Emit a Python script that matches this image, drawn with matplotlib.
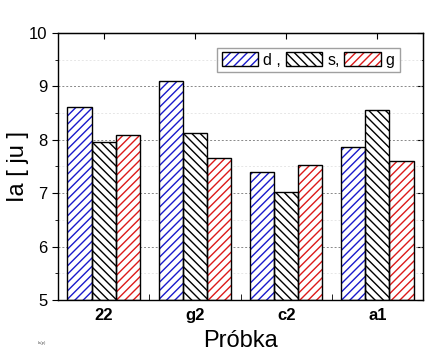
import matplotlib
matplotlib.use('Agg')
import matplotlib.pyplot as plt
import numpy as np
from matplotlib.patches import Patch
from matplotlib.legend_handler import HandlerTuple

plt.rcParams['font.family'] = ['Liberation Sans', 'DejaVu Sans']
plt.rcParams['hatch.linewidth'] = 1.0

# data
samples = ['22', 'g2', 'c2', 'a1']
d_vals = [8.62, 9.11, 7.40, 7.87]
s_vals = [7.96, 8.13, 7.03, 8.55]
g_vals = [8.09, 7.65, 7.53, 7.61]
labels = ['d ,', 's,', 'g']

series = [d_vals, s_vals, g_vals]
colors = ['#1a1acc', 'black', '#dd1a1a']
hatches = ['////', '\\\\\\\\', '////']

fig = plt.figure(figsize=(4.32, 3.56), dpi=100)
ax = fig.add_axes([58 / 432, 1 - 300 / 356, 365 / 432, 267 / 356])

x = np.arange(len(samples))
w = 0.265
for i, vals in enumerate(series):
    pos = x + (i - 1) * w
    # hatch layer in colour, outline in black
    ax.bar(pos, np.array(vals) - 5, w, bottom=5, color='white',
           edgecolor=colors[i], hatch=hatches[i], linewidth=0, zorder=2)
    ax.bar(pos, np.array(vals) - 5, w, bottom=5, fill=False,
           edgecolor='black', linewidth=1.0, zorder=3)

ax.set_xlim(-0.5, 3.5)
ax.set_ylim(5, 10)
ax.set_xticks(x)
ax.set_xticklabels(samples, fontweight='bold', fontsize=12)
ax.set_xticks(np.arange(-0.5, 3.6, 1), minor=True)
ax.set_yticks(np.arange(5, 11, 1))
ax.set_yticks(np.arange(5.5, 10, 1), minor=True)
ax.tick_params(axis='y', labelsize=12, direction='out', length=4, right=False)
ax.tick_params(axis='y', which='minor', direction='out', length=2)
ax.tick_params(axis='x', which='major', length=0, pad=6)
ax.tick_params(axis='x', which='minor', direction='in', length=4)

# inward ticks on top and right
axr = ax.secondary_yaxis('right')
axr.set_yticks(np.arange(5, 11, 1))
axr.set_yticks(np.arange(5.5, 10, 1), minor=True)
axr.tick_params(which='major', direction='in', length=4, labelright=False)
axr.tick_params(which='minor', direction='in', length=2)
axt = ax.secondary_xaxis('top')
axt.set_xticks(x)
axt.tick_params(direction='in', length=4, labeltop=False)

ax.grid(axis='y', which='major', linestyle=(0, (2, 2)), color='#888888', linewidth=0.7, zorder=0)
ax.grid(axis='y', which='minor', linestyle=(0, (2, 2)), color='#e6e6e6', linewidth=0.7, zorder=0)
ax.set_axisbelow(True)
for sp in ax.spines.values():
    sp.set_linewidth(1.0)

ax.set_ylabel('Ia [ ju ]', fontsize=17)
ax.yaxis.set_label_coords(-0.08, 0.5)
ax.set_xlabel('Próbka', fontsize=17, labelpad=5)

handles = [(Patch(facecolor='white', edgecolor=colors[i], hatch=hatches[i], linewidth=0),
            Patch(fill=False, edgecolor='black', linewidth=1.0))
           for i in range(3)]
leg = ax.legend(handles, labels, ncol=3, loc='upper left', bbox_to_anchor=(0.435, 0.945),
                handler_map={tuple: HandlerTuple(ndivide=1, pad=0)},
                fontsize=11.5, frameon=True, fancybox=False, handlelength=2.3, handleheight=0.9,
                handletextpad=0.3, columnspacing=0.3, borderpad=0.3, edgecolor='#888888',
                borderaxespad=0)
leg.get_frame().set_linewidth(1.0)

fig.text(38 / 432, 1 - 344 / 356, 'Ia(p)', fontsize=3, color='#555555')

fig.savefig('out.png', dpi=100)
